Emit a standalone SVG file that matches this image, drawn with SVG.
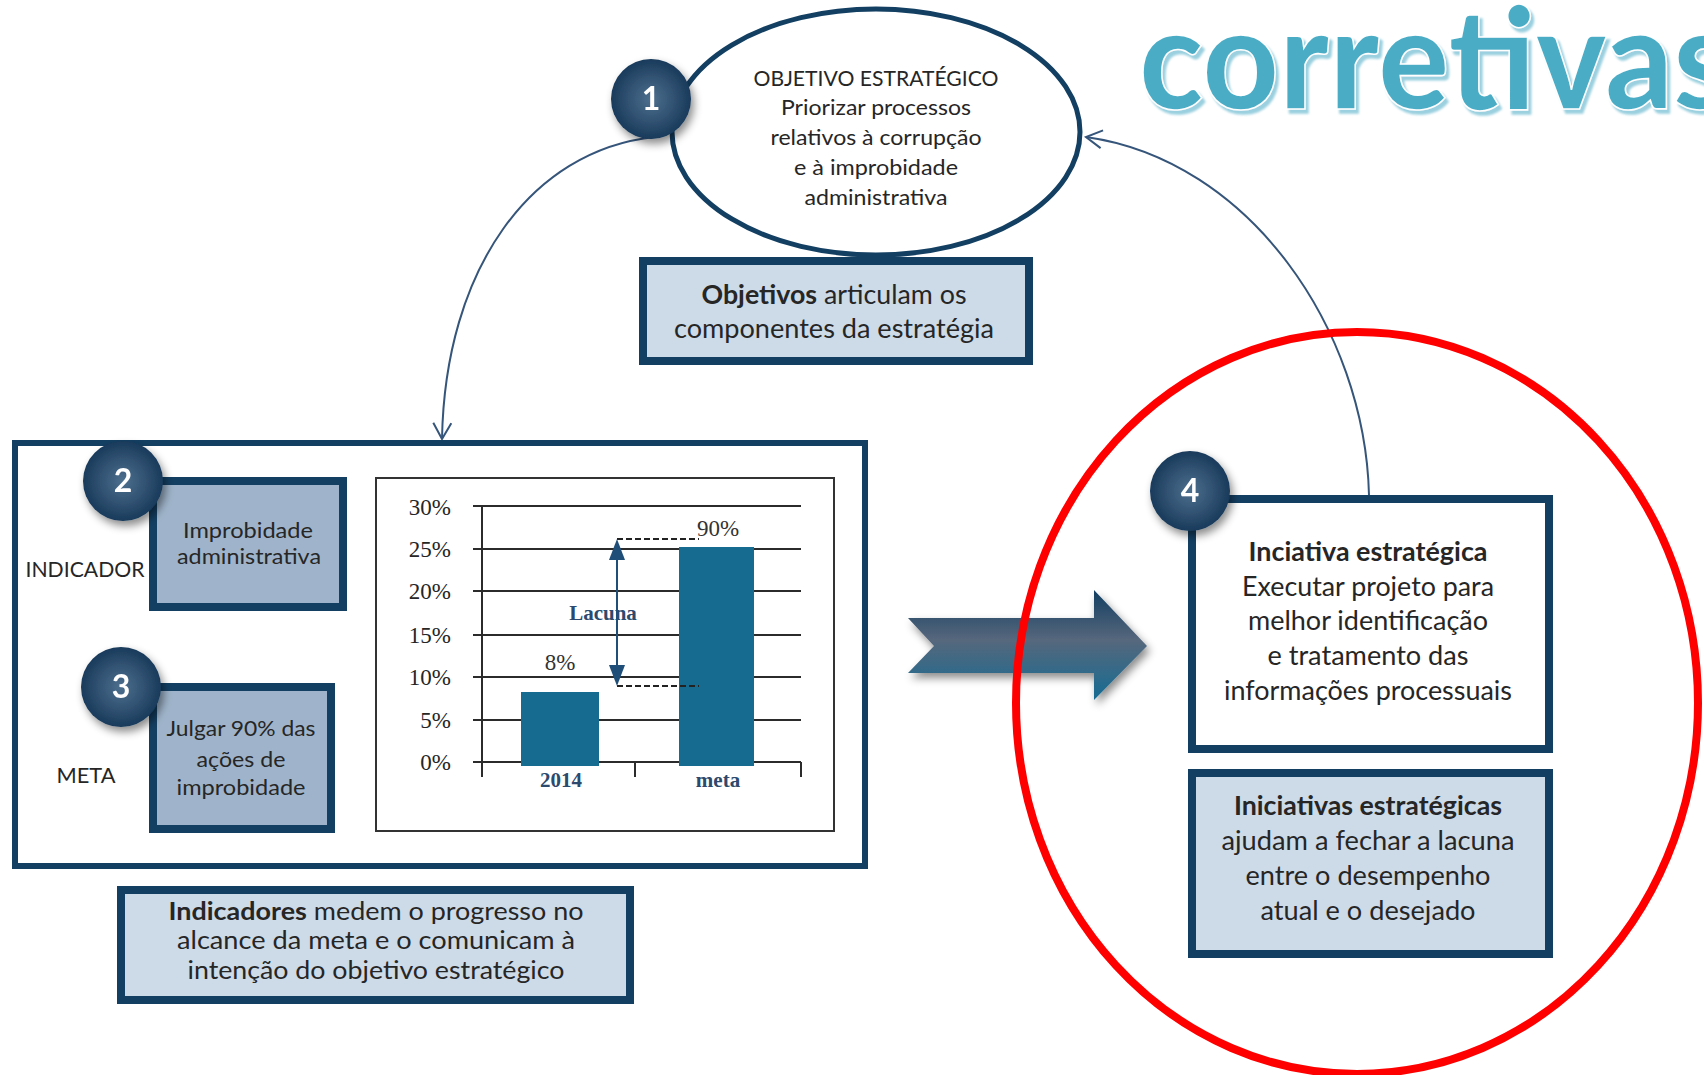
<svg xmlns="http://www.w3.org/2000/svg" width="1704" height="1075" viewBox="0 0 1704 1075">
<style>
.t{font-family:Lato,"Open Sans","Liberation Sans",sans-serif;fill:#262626;text-anchor:middle}
.b{font-weight:bold}
.box{stroke:#133f62;stroke-width:8}
.lt{fill:#cddbe9}
.md{fill:#9fb4ca}
.num{font-family:Lato,"Liberation Sans",sans-serif;font-weight:bold;font-size:32px;fill:#fff;text-anchor:middle}
.ax{font-family:"Liberation Serif",serif;font-size:23px;fill:#262626;text-anchor:end}
.sv{font-family:"Liberation Serif",serif;font-weight:bold;font-size:21px;fill:#2c4a6e;text-anchor:middle}
.grid{stroke:#2b2b2b;stroke-width:2}
.conn{fill:none;stroke:#36557a;stroke-width:2}
</style>
<defs>
<radialGradient id="badge" cx="0.5" cy="0.5" r="0.5">
<stop offset="0" stop-color="#4d6f8e"/>
<stop offset="0.7" stop-color="#2a4b6b"/>
<stop offset="1" stop-color="#183a5a"/>
</radialGradient>
<linearGradient id="arrowg" x1="0" y1="0" x2="0" y2="1">
<stop offset="0" stop-color="#123e61"/>
<stop offset="0.45" stop-color="#56677c"/>
<stop offset="1" stop-color="#156c93"/>
</linearGradient>
<filter id="sh" x="-30%" y="-30%" width="170%" height="170%">
<feDropShadow dx="3" dy="5" stdDeviation="4" flood-color="#000" flood-opacity="0.45"/>
</filter>
<filter id="tsh" x="-5%" y="-20%" width="110%" height="140%">
<feDropShadow dx="3" dy="4" stdDeviation="1" flood-color="#8fcbdc" flood-opacity="0.9"/>
</filter>
<marker id="open" viewBox="0 0 20 20" refX="18" refY="10" markerWidth="20" markerHeight="20" markerUnits="userSpaceOnUse" orient="auto">
<path d="M2,1 L18,10 L2,19" fill="none" stroke="#36557a" stroke-width="2"/>
</marker>
</defs>
<rect width="1704" height="1075" fill="#fff"/>

<g id="titulo">
<text x="1139" y="109" font-family="Lato,'Open Sans',sans-serif" font-weight="900" font-size="142" fill="#4bacc6" stroke="#ffffff" stroke-width="1.6" filter="url(#tsh)" textLength="593" lengthAdjust="spacingAndGlyphs">corretivas</text>
</g>

<g id="connectors">
<path class="conn" d="M655,137 C530,150 445,270 442,439" marker-end="url(#open)"/>
<path class="conn" d="M1369,495 C1365,330 1250,160 1086,137" marker-end="url(#open)"/>
</g>

<g id="objetivo">
<ellipse cx="876" cy="132" rx="204" ry="123" fill="#fff" stroke="#133f62" stroke-width="5"/>
<text class="t" font-size="21" x="876" y="86" textLength="245" lengthAdjust="spacingAndGlyphs">OBJETIVO ESTRATÉGICO</text>
<text class="t" font-size="21" x="876" y="115" textLength="190" lengthAdjust="spacingAndGlyphs">Priorizar processos</text>
<text class="t" font-size="21" x="876" y="145" textLength="211" lengthAdjust="spacingAndGlyphs">relativos à corrupção</text>
<text class="t" font-size="21" x="876" y="175" textLength="164" lengthAdjust="spacingAndGlyphs">e à improbidade</text>
<text class="t" font-size="21" x="876" y="205" textLength="143" lengthAdjust="spacingAndGlyphs">administrativa</text>
</g>
<g id="badge1" filter="url(#sh)">
<circle cx="651" cy="99" r="40" fill="url(#badge)"/>
<text class="num" x="651" y="110">1</text>
</g>

<g id="objetivos-nota">
<rect class="box lt" x="643" y="261" width="386" height="100"/>
<text class="t" font-size="26" x="834" y="304" textLength="265" lengthAdjust="spacingAndGlyphs"><tspan class="b">Objetivos</tspan> articulam os</text>
<text class="t" font-size="26" x="834" y="338" textLength="320" lengthAdjust="spacingAndGlyphs">componentes da estratégia</text>
</g>

<g id="painel">
<rect x="15" y="443" width="850" height="423" fill="#fff" stroke="#133f62" stroke-width="6"/>
</g>

<g id="indicador">
<text class="t" font-size="21" x="85" y="577" textLength="119" lengthAdjust="spacingAndGlyphs">INDICADOR</text>
<rect class="box md" x="153" y="481" width="190" height="126"/>
<text class="t" font-size="22" x="248" y="538" textLength="130" lengthAdjust="spacingAndGlyphs">Improbidade</text>
<text class="t" font-size="22" x="249" y="564" textLength="144" lengthAdjust="spacingAndGlyphs">administrativa</text>
</g>
<g id="badge2" filter="url(#sh)">
<circle cx="123" cy="481" r="40" fill="url(#badge)"/>
<text class="num" x="123" y="492">2</text>
</g>

<g id="meta">
<text class="t" font-size="21" x="86" y="783" textLength="59" lengthAdjust="spacingAndGlyphs">META</text>
<rect class="box md" x="153" y="687" width="178" height="142"/>
<text class="t" font-size="22" x="241" y="736" textLength="149" lengthAdjust="spacingAndGlyphs">Julgar 90% das</text>
<text class="t" font-size="22" x="241" y="767" textLength="89" lengthAdjust="spacingAndGlyphs">ações de</text>
<text class="t" font-size="22" x="241" y="795" textLength="129" lengthAdjust="spacingAndGlyphs">improbidade</text>
</g>
<g id="badge3" filter="url(#sh)">
<circle cx="121" cy="687" r="40" fill="url(#badge)"/>
<text class="num" x="121" y="698">3</text>
</g>

<g id="grafico">
<rect x="376" y="478" width="458" height="353" fill="#fff" stroke="#333" stroke-width="2"/>
<g class="grid">
<line x1="473" y1="506" x2="801" y2="506"/>
<line x1="473" y1="549" x2="801" y2="549"/>
<line x1="473" y1="591" x2="801" y2="591"/>
<line x1="473" y1="635" x2="801" y2="635"/>
<line x1="473" y1="677" x2="801" y2="677"/>
<line x1="473" y1="720" x2="801" y2="720"/>
<line x1="473" y1="762" x2="801" y2="762"/>
<line x1="482" y1="506" x2="482" y2="777"/>
<line x1="635" y1="762" x2="635" y2="777"/>
<line x1="801" y1="762" x2="801" y2="777"/>
</g>
<text class="ax" x="451" y="515">30%</text>
<text class="ax" x="451" y="557">25%</text>
<text class="ax" x="451" y="599">20%</text>
<text class="ax" x="451" y="643">15%</text>
<text class="ax" x="451" y="685">10%</text>
<text class="ax" x="451" y="728">5%</text>
<text class="ax" x="451" y="770">0%</text>
<rect x="521" y="692" width="78" height="74" fill="#166b91"/>
<rect x="679" y="547" width="75" height="219" fill="#166b91"/>
<line x1="617" y1="539" x2="699" y2="539" stroke="#222" stroke-width="2" stroke-dasharray="6 3"/>
<line x1="617" y1="686" x2="699" y2="686" stroke="#222" stroke-width="2" stroke-dasharray="6 3"/>
<text class="sv" x="603" y="620">Lacuna</text>
<line x1="617" y1="555" x2="617" y2="670" stroke="#1f4e79" stroke-width="2"/>
<polygon points="617,539 609,560 625,560" fill="#1f4e79"/>
<polygon points="617,686 609,665 625,665" fill="#1f4e79"/>
<text x="560" y="670" font-family="'Liberation Serif',serif" font-size="23" fill="#333" text-anchor="middle">8%</text>
<text x="718" y="536" font-family="'Liberation Serif',serif" font-size="23" fill="#333" text-anchor="middle">90%</text>
<text class="sv" x="561" y="787">2014</text>
<text class="sv" x="718" y="787">meta</text>
</g>

<g id="indicadores-nota">
<rect class="box lt" x="121" y="890" width="509" height="110"/>
<text class="t" font-size="25" x="376" y="920" textLength="415" lengthAdjust="spacingAndGlyphs"><tspan class="b">Indicadores</tspan> medem o progresso no</text>
<text class="t" font-size="25" x="376" y="949" textLength="398" lengthAdjust="spacingAndGlyphs">alcance da meta e o comunicam à</text>
<text class="t" font-size="25" x="376" y="979" textLength="377" lengthAdjust="spacingAndGlyphs">intenção do objetivo estratégico</text>
</g>

<g id="seta" filter="url(#sh)">
<polygon points="908,618 1094,618 1094,590 1147,646 1094,700 1094,673 908,673 934,646" fill="url(#arrowg)"/>
</g>

<g id="iniciativa">
<rect class="box" x="1192" y="499" width="357" height="250" fill="#fff"/>
<text class="t b" font-size="26" x="1368" y="561" textLength="239" lengthAdjust="spacingAndGlyphs">Inciativa estratégica</text>
<text class="t" font-size="26" x="1368" y="596" textLength="252" lengthAdjust="spacingAndGlyphs">Executar projeto para</text>
<text class="t" font-size="26" x="1368" y="630" textLength="240" lengthAdjust="spacingAndGlyphs">melhor identificação</text>
<text class="t" font-size="26" x="1368" y="665" textLength="201" lengthAdjust="spacingAndGlyphs">e tratamento das</text>
<text class="t" font-size="26" x="1368" y="700" textLength="288" lengthAdjust="spacingAndGlyphs">informações processuais</text>
</g>
<g id="badge4" filter="url(#sh)">
<circle cx="1190" cy="491" r="40" fill="url(#badge)"/>
<text class="num" x="1190" y="502">4</text>
</g>

<g id="iniciativas-nota">
<rect class="box lt" x="1192" y="773" width="357" height="181"/>
<text class="t b" font-size="26" x="1368" y="815" textLength="268" lengthAdjust="spacingAndGlyphs">Iniciativas estratégicas</text>
<text class="t" font-size="26" x="1368" y="850" textLength="293" lengthAdjust="spacingAndGlyphs">ajudam a fechar a lacuna</text>
<text class="t" font-size="26" x="1368" y="885" textLength="245" lengthAdjust="spacingAndGlyphs">entre o desempenho</text>
<text class="t" font-size="26" x="1368" y="920" textLength="215" lengthAdjust="spacingAndGlyphs">atual e o desejado</text>
</g>

<g id="destaque">
<ellipse cx="1357" cy="703" rx="341" ry="371" fill="none" stroke="#ff0000" stroke-width="8"/>
</g>
</svg>
